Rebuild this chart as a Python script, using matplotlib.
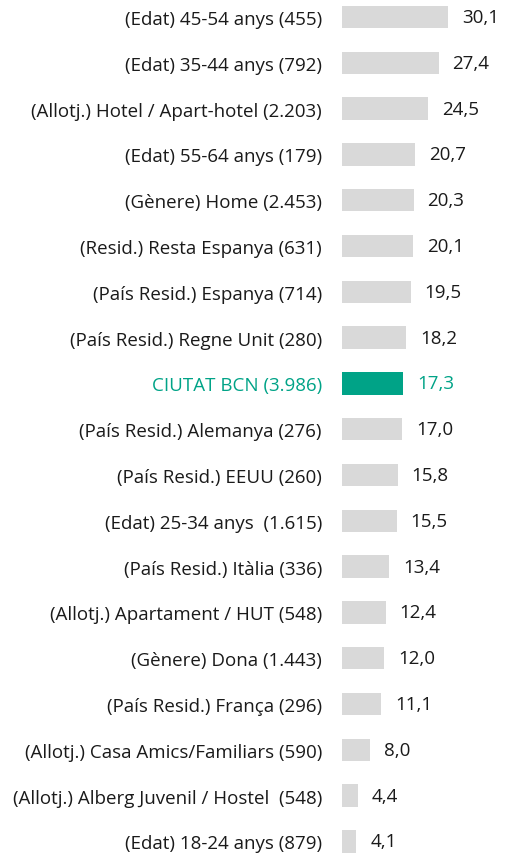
import numpy as np
import matplotlib.pyplot as plt

labels = [
    "(Edat) 45-54 anys (455)",
    "(Edat) 35-44 anys (792)",
    "(Allotj.) Hotel / Apart-hotel (2.203)",
    "(Edat) 55-64 anys (179)",
    "(Gènere) Home (2.453)",
    "(Resid.) Resta Espanya (631)",
    "(País Resid.) Espanya (714)",
    "(País Resid.) Regne Unit (280)",
    "CIUTAT BCN (3.986)",
    "(País Resid.) Alemanya (276)",
    "(País Resid.) EEUU (260)",
    "(Edat) 25-34 anys  (1.615)",
    "(País Resid.) Itàlia (336)",
    "(Allotj.) Apartament / HUT (548)",
    "(Gènere) Dona (1.443)",
    "(País Resid.) França (296)",
    "(Allotj.) Casa Amics/Familiars (590)",
    "(Allotj.) Alberg Juvenil / Hostel  (548)",
    "(Edat) 18-24 anys (879)",
]
values = [30.1, 27.4, 24.5, 20.7, 20.3, 20.1, 19.5, 18.2, 17.3, 17.0,
          15.8, 15.5, 13.4, 12.4, 12.0, 11.1, 8.0, 4.4, 4.1]
highlight = "CIUTAT BCN (3.986)"

grey = "#D9D9D9"
teal = "#00A387"
text_col = "#1a1a1a"

plt.rcParams['font.family'] = ['Open Sans', 'DejaVu Sans']

W, H = 510, 854
fig = plt.figure(figsize=(W / 100, H / 100), dpi=100)
ax = fig.add_axes([342 / W, 0, 1 - 342 / W, 1])

px_per_unit = 3.53
ax.set_xlim(0, (W - 342) / px_per_unit)
row = 45.8
y0 = 18
ax.set_ylim((H - y0) / row, -y0 / row)

y = np.arange(len(values))
colors = [teal if l == highlight else grey for l in labels]
ax.barh(y, values, height=0.49, color=colors)

for i, (v, l) in enumerate(zip(values, labels)):
    c = teal if l == highlight else text_col
    ax.annotate(f"{v:.1f}".replace(".", ","), (v, i), xytext=(10, 0),
                textcoords="offset points", va="center", ha="left",
                fontsize=13.5, color=c)

ax.set_yticks(y)
ax.set_yticklabels(labels, fontsize=13.5)
for t, l in zip(ax.get_yticklabels(), labels):
    t.set_color(teal if l == highlight else text_col)
ax.tick_params(axis="y", length=0, pad=14.4)
ax.set_xticks([])
for s in ax.spines.values():
    s.set_visible(False)

fig.savefig("out.png", dpi=100)
